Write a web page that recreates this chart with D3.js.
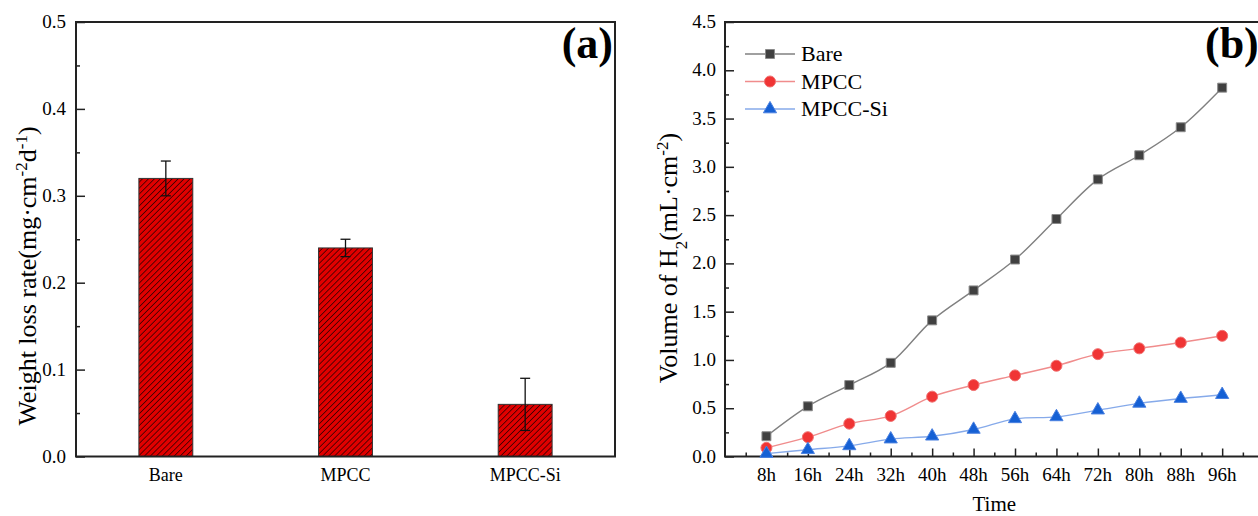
<!DOCTYPE html>
<html>
<head>
<meta charset="utf-8">
<script src="https://cdn.jsdelivr.net/npm/d3@7"></script>
<style>
  body { margin: 0; background: #fff; }
  svg text { font-family: "Liberation Serif", "Times New Roman", "DejaVu Serif", serif; }
</style>
</head>
<body>
<svg id="chart" width="1258" height="516"></svg>
<script>
// panel (a) data
var samples = ["Bare", "MPCC", "MPCC-Si"];
var lossRate = [0.32, 0.24, 0.06];
var lossErr = [0.02, 0.01, 0.03];
var lossTicks = [0, 0.1, 0.2, 0.3, 0.4, 0.5];

// panel (b) data
var hours = ["8h", "16h", "24h", "32h", "40h", "48h", "56h", "64h", "72h", "80h", "88h", "96h"];
var h2Bare = [0.21, 0.52, 0.74, 0.97, 1.41, 1.72, 2.04, 2.46, 2.87, 3.12, 3.41, 3.82];
var h2Mpcc = [0.09, 0.20, 0.34, 0.42, 0.62, 0.74, 0.84, 0.94, 1.06, 1.12, 1.18, 1.25];
var h2MpccSi = [0.03, 0.07, 0.11, 0.18, 0.21, 0.28, 0.39, 0.41, 0.48, 0.55, 0.60, 0.64];
var h2Ticks = [0, 0.5, 1, 1.5, 2, 2.5, 3, 3.5, 4, 4.5];

var svg = d3.select("#chart");
var frameColor = "#222";
var serif = "Liberation Serif, Times New Roman, DejaVu Serif, serif";

// hatch pattern for bars
var defs = svg.append("defs");
var pat = defs.append("pattern")
    .attr("id", "hatch")
    .attr("patternUnits", "userSpaceOnUse")
    .attr("width", 4.2)
    .attr("height", 4.2)
    .attr("patternTransform", "rotate(45)");
pat.append("rect").attr("width", 4.2).attr("height", 4.2).attr("fill", "#e00000");
pat.append("line")
    .attr("x1", 0).attr("y1", 0).attr("x2", 0).attr("y2", 4.2)
    .attr("stroke", "#3a0000").attr("stroke-width", 1.6);

// ---------- panel (a) ----------
var a = { left: 76, top: 22, right: 615, bottom: 456.5 };

var xA = d3.scaleBand().domain(samples).range([a.left, a.right]);
var yA = d3.scaleLinear().domain([0, 0.5]).range([a.bottom, a.top]);

var gA = svg.append("g").attr("font-family", serif);

var barW = xA.bandwidth() * 0.3;
gA.selectAll("rect.bar")
    .data(samples)
    .enter()
    .append("rect")
    .attr("class", "bar")
    .attr("x", function (d) { return xA(d) + xA.bandwidth() / 2 - barW / 2; })
    .attr("y", function (d, i) { return yA(lossRate[i]); })
    .attr("width", barW)
    .attr("height", function (d, i) { return yA(0) - yA(lossRate[i]); })
    .attr("fill", "url(#hatch)")
    .attr("stroke", "#333")
    .attr("stroke-width", 1);

// error bars
var eb = gA.selectAll("g.err")
    .data(samples)
    .enter()
    .append("g")
    .attr("class", "err")
    .attr("stroke", "#111")
    .attr("stroke-width", 1.3);
eb.append("line")
    .attr("x1", function (d) { return xA(d) + xA.bandwidth() / 2; })
    .attr("x2", function (d) { return xA(d) + xA.bandwidth() / 2; })
    .attr("y1", function (d, i) { return yA(lossRate[i] - lossErr[i]); })
    .attr("y2", function (d, i) { return yA(lossRate[i] + lossErr[i]); });
[-1, 1].forEach(function (s) {
    eb.append("line")
        .attr("x1", function (d) { return xA(d) + xA.bandwidth() / 2 - 5; })
        .attr("x2", function (d) { return xA(d) + xA.bandwidth() / 2 + 5; })
        .attr("y1", function (d, i) { return yA(lossRate[i] + s * lossErr[i]); })
        .attr("y2", function (d, i) { return yA(lossRate[i] + s * lossErr[i]); });
});

// y axis (a), ticks inside
var yAxisA = d3.axisRight(yA).tickValues(d3.range(0, 0.501, 0.05)).tickSize(0).tickFormat("");
var yaG = gA.append("g").attr("transform", "translate(" + a.left + ",0)").call(yAxisA);
yaG.select(".domain").remove();
yaG.selectAll(".tick line")
    .attr("x2", function (d, i) { return i % 2 === 0 ? 9 : 4; })
    .attr("stroke", frameColor).attr("stroke-width", 1.5);

gA.selectAll("text.ytick")
    .data(lossTicks)
    .enter()
    .append("text")
    .attr("class", "ytick")
    .attr("x", a.left - 10)
    .attr("y", function (d) { return yA(d) + 6; })
    .attr("text-anchor", "end")
    .attr("font-size", 19)
    .text(function (d) { return d3.format(".1f")(d); });

gA.selectAll("text.xlab")
    .data(samples)
    .enter()
    .append("text")
    .attr("class", "xlab")
    .attr("x", function (d) { return xA(d) + xA.bandwidth() / 2; })
    .attr("y", a.bottom + 24)
    .attr("text-anchor", "middle")
    .attr("font-size", 18)
    .text(function (d) { return d; });

gA.append("rect")
    .attr("x", a.left).attr("y", a.top)
    .attr("width", a.right - a.left).attr("height", a.bottom - a.top)
    .attr("fill", "none").attr("stroke", frameColor).attr("stroke-width", 2);

var ta = gA.append("text")
    .attr("transform", "translate(36,276) rotate(-90)")
    .attr("text-anchor", "middle")
    .attr("font-size", 26);
ta.append("tspan").text("Weight loss rate(mg·cm");
ta.append("tspan").attr("baseline-shift", "super").attr("font-size", 17).text("-2");
ta.append("tspan").text("d");
ta.append("tspan").attr("baseline-shift", "super").attr("font-size", 17).text("-1");
ta.append("tspan").text(")");

gA.append("text")
    .attr("x", a.right - 2).attr("y", 58)
    .attr("text-anchor", "end")
    .attr("font-size", 44).attr("font-weight", "bold")
    .text("(a)");

// ---------- panel (b) ----------
var b = { left: 725, top: 22, bottom: 456.5, step: 41.43 };
var xB = d3.scaleLinear().domain([0, 13]).range([b.left, b.left + 13 * b.step]);
var yB = d3.scaleLinear().domain([0, 4.5]).range([b.bottom, b.top]);

var gB = svg.append("g").attr("font-family", serif);

// x ticks inside (up)
var xAxisB = d3.axisTop(xB).tickValues(d3.range(0.5, 13, 0.5)).tickSize(0).tickFormat("");
var xbG = gB.append("g").attr("transform", "translate(0," + b.bottom + ")").call(xAxisB);
xbG.select(".domain").remove();
xbG.selectAll(".tick line")
    .attr("y2", function (d) { return d % 1 === 0 ? -8 : -4; })
    .attr("stroke", frameColor).attr("stroke-width", 1.5);

var yAxisB = d3.axisRight(yB).tickValues(d3.range(0, 4.501, 0.25)).tickSize(0).tickFormat("");
var ybG = gB.append("g").attr("transform", "translate(" + b.left + ",0)").call(yAxisB);
ybG.select(".domain").remove();
ybG.selectAll(".tick line")
    .attr("x2", function (d, i) { return i % 2 === 0 ? 9 : 4; })
    .attr("stroke", frameColor).attr("stroke-width", 1.5);

gB.selectAll("text.ytick")
    .data(h2Ticks)
    .enter()
    .append("text")
    .attr("class", "ytick")
    .attr("x", b.left - 9)
    .attr("y", function (d) { return yB(d) + 6; })
    .attr("text-anchor", "end")
    .attr("font-size", 19)
    .text(function (d) { return d3.format(".1f")(d); });

gB.selectAll("text.xlab")
    .data(hours)
    .enter()
    .append("text")
    .attr("class", "xlab")
    .attr("x", function (d, i) { return xB(i + 1); })
    .attr("y", b.bottom + 24)
    .attr("text-anchor", "middle")
    .attr("font-size", 19)
    .text(function (d) { return d; });

gB.append("text")
    .attr("x", xB(6.5)).attr("y", 511)
    .attr("text-anchor", "middle")
    .attr("font-size", 21)
    .text("Time");

var tb = gB.append("text")
    .attr("transform", "translate(677,258) rotate(-90)")
    .attr("text-anchor", "middle")
    .attr("font-size", 26);
tb.append("tspan").text("Volume of H");
tb.append("tspan").attr("baseline-shift", "sub").attr("font-size", 17).text("2");
tb.append("tspan").text("(mL·cm");
tb.append("tspan").attr("baseline-shift", "super").attr("font-size", 17).text("-2");
tb.append("tspan").text(")");

// frame (right edge falls outside the picture)
gB.append("rect")
    .attr("x", b.left).attr("y", b.top)
    .attr("width", 13 * b.step).attr("height", b.bottom - b.top)
    .attr("fill", "none").attr("stroke", frameColor).attr("stroke-width", 2);

var series = [
    { name: "Bare", values: h2Bare, line: "#808080", fill: "#404040", edge: "#8a8a8a", shape: d3.symbolSquare, size: 80 },
    { name: "MPCC", values: h2Mpcc, line: "#f08c8c", fill: "#f03434", edge: "#f07070", shape: d3.symbolCircle, size: 95 },
    { name: "MPCC-Si", values: h2MpccSi, line: "#86aaea", fill: "#1560d4", edge: "#4a80e0", shape: d3.symbolTriangle, size: 75 }
];

var line = d3.line()
    .x(function (d, i) { return xB(i + 1); })
    .y(function (d) { return yB(d); })
    .curve(d3.curveCatmullRom);

series.forEach(function (s) {
    gB.append("path")
        .attr("d", line(s.values))
        .attr("fill", "none")
        .attr("stroke", s.line)
        .attr("stroke-width", 1.4);
    gB.selectAll(null)
        .data(s.values)
        .enter()
        .append("path")
        .attr("d", d3.symbol().type(s.shape).size(s.size))
        .attr("transform", function (d, i) { return "translate(" + xB(i + 1) + "," + yB(d) + ")"; })
        .attr("fill", s.fill)
        .attr("stroke", s.edge)
        .attr("stroke-width", 1);
});

// legend
var leg = gB.selectAll("g.leg")
    .data(series)
    .enter()
    .append("g")
    .attr("class", "leg")
    .attr("transform", function (d, i) { return "translate(745," + (54 + i * 27.5) + ")"; });
leg.append("line")
    .attr("x1", 0).attr("x2", 50).attr("y1", 0).attr("y2", 0)
    .attr("stroke", function (d) { return d.line; })
    .attr("stroke-width", 1.4);
leg.append("path")
    .attr("d", function (d) { return d3.symbol().type(d.shape).size(d.size)(); })
    .attr("transform", "translate(25,0)")
    .attr("fill", function (d) { return d.fill; })
    .attr("stroke", function (d) { return d.edge; });
leg.append("text")
    .attr("x", 56).attr("y", 7)
    .attr("font-size", 22)
    .text(function (d) { return d.name; });

gB.append("text")
    .attr("x", 1205).attr("y", 58)
    .attr("font-size", 44).attr("font-weight", "bold")
    .text("(b)");
</script>
</body>
</html>
